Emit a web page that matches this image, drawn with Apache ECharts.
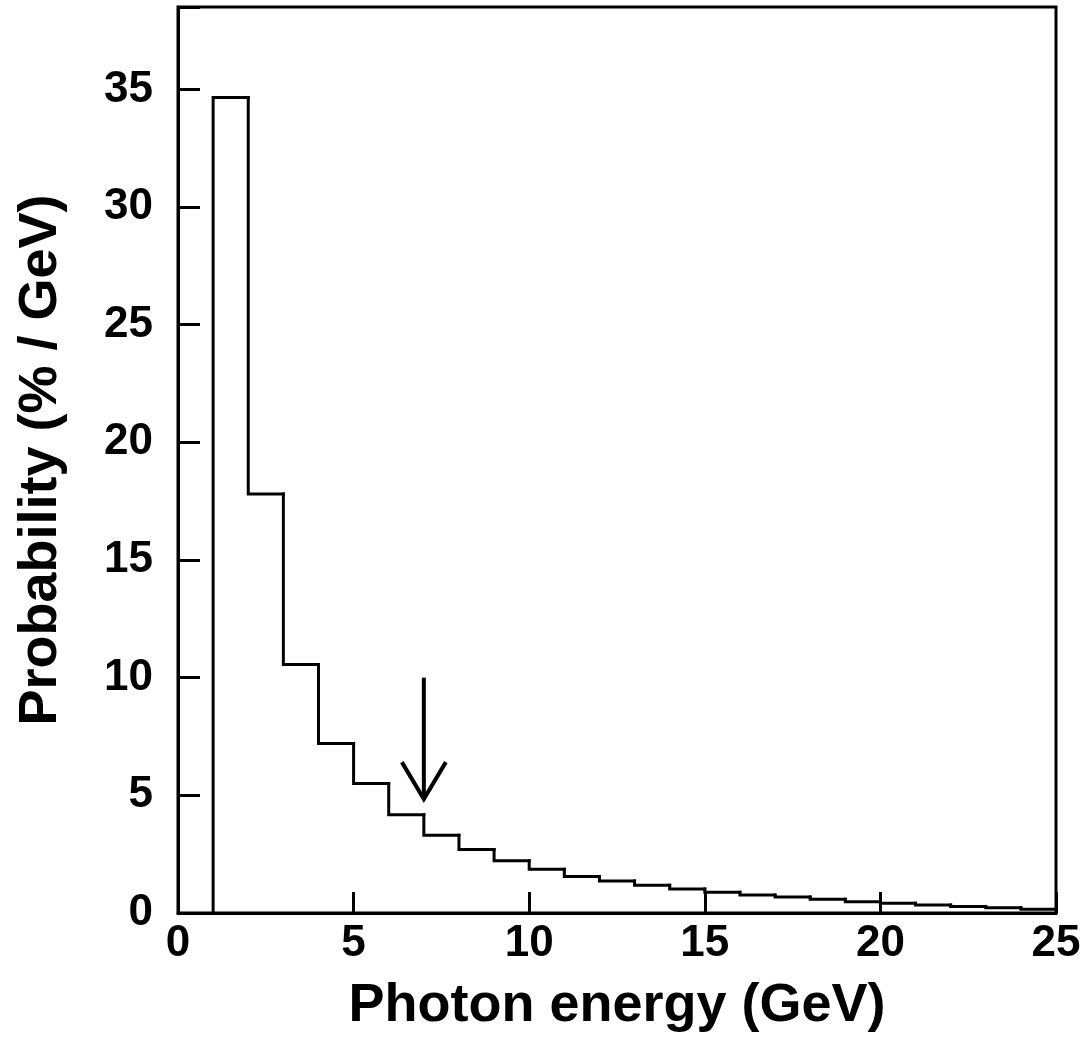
<!DOCTYPE html>
<html>
<head>
<meta charset="utf-8">
<script src="https://cdn.jsdelivr.net/npm/echarts@6/dist/echarts.min.js"></script>
<style>html,body{margin:0;padding:0;background:#fff}#c{width:1086px;height:1042px}</style>
</head>
<body>
<div id="c"></div>
<script>
// Histogram bins (GeV): left edges, bin width 1
const binLeftEdges = [1,2,3,4,5,6,7,8,9,10,11,12,13,14,15,16,17,18,19,20,21,22,23,24];
const binWidth = 1;
// Probability (% / GeV) for each bin
const probability = [34.65,17.8,10.56,7.2,5.5,4.18,3.3,2.7,2.22,1.86,1.55,1.36,1.18,1.02,0.88,0.77,0.68,0.58,0.48,0.41,0.34,0.28,0.22,0.16];
// Arrow annotation: x position, shaft top value, tip value
const arrowX = 7;
const arrowTop = 10;
const arrowTip = 4.84;
// Axis ticks
const xTicks = [0,5,10,15,20,25];
const yTicks = [0,5,10,15,20,25,30,35];

// each bin: [left, right, value, previous bin value]
const binData = binLeftEdges.map((e, i) => [e, e + binWidth, probability[i], i === 0 ? 0 : probability[i - 1]]);

const font = '"Liberation Sans", Arial, Helvetica, sans-serif';
const chart = echarts.init(document.getElementById('c'), null, {renderer: 'canvas'});
chart.setOption({
  animation: false,
  grid: {left: 178, right: 30, top: 7, bottom: 129, show: true, borderColor: '#000', borderWidth: 3, backgroundColor: 'transparent'},
  xAxis: {
    type: 'value', min: 0, max: 25, interval: 5,
    name: 'Photon energy (GeV)', nameLocation: 'middle', nameGap: 66,
    nameTextStyle: {fontFamily: font, fontWeight: 'bold', fontSize: 54, color: '#000'},
    axisLine: {show: true, lineStyle: {color: '#000', width: 3}},
    axisTick: {show: true, inside: true, length: 21, lineStyle: {color: '#000', width: 3}},
    axisLabel: {fontFamily: font, fontWeight: 'bold', fontSize: 44, color: '#000', margin: 9,
      formatter: v => xTicks.includes(v) ? String(v) : ''},
    splitLine: {show: false}
  },
  yAxis: {
    type: 'value', min: 0, max: 38.5, interval: 5,
    name: 'Probability (% / GeV)', nameLocation: 'middle', nameGap: 110,
    nameTextStyle: {fontFamily: font, fontWeight: 'bold', fontSize: 54, color: '#000'},
    axisLine: {show: true, lineStyle: {color: '#000', width: 3}},
    axisTick: {show: true, inside: true, length: 22, lineStyle: {color: '#000', width: 3}},
    axisLabel: {fontFamily: font, fontWeight: 'bold', fontSize: 44, color: '#000', margin: 25,
      formatter: v => yTicks.includes(v) ? String(v) : ''},
    splitLine: {show: false}
  },
  series: [
    {
      type: 'custom', data: binData, z: 3,
      renderItem: (params, api) => {
        const l = api.value(0), r = api.value(1), v = api.value(2), pv = api.value(3);
        const p0 = api.coord([l, pv]);
        const p1 = api.coord([l, v]);
        const p2 = api.coord([r, v]);
        return {type: 'polyline', shape: {points: [p0, p1, p2]},
          style: {stroke: '#000', lineWidth: 3, fill: null, lineCap: 'square', lineJoin: 'miter'}};
      }
    },
    {
      type: 'custom', data: [[arrowX, arrowTop, arrowTip]], z: 4,
      renderItem: (params, api) => {
        const top = api.coord([api.value(0), api.value(1)]);
        const tip = api.coord([api.value(0), api.value(2)]);
        const style = {stroke: '#000', lineWidth: 4, fill: null};
        return {type: 'group', children: [
          {type: 'polyline', shape: {points: [top, tip]}, style},
          {type: 'polyline', shape: {points: [[tip[0]-22, tip[1]-37], tip, [tip[0]+22, tip[1]-37]]}, style}
        ]};
      }
    }
  ]
});
</script>
</body>
</html>
